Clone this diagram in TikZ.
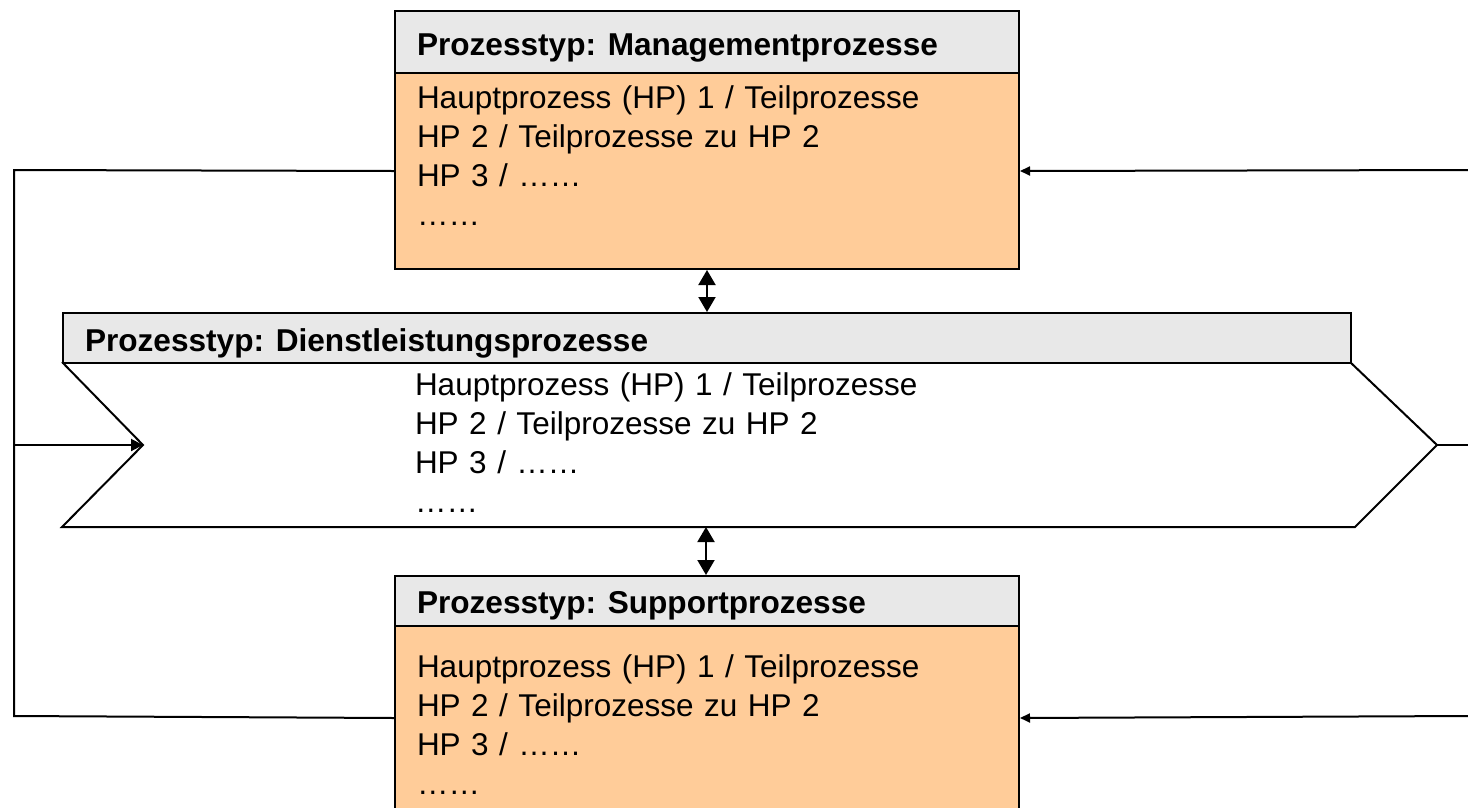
\documentclass[tikz,border=0pt]{standalone}
\usepackage{fontspec}
\setmainfont{Liberation Sans}
\usetikzlibrary{arrows.meta}
\definecolor{headgrey}{HTML}{E8E8E8}
\definecolor{bodyorange}{HTML}{FFCC99}
\tikzset{
  box/.style={draw=black, line width=2pt, inner sep=0pt, anchor=north west, minimum width=624pt},
  headtxt/.style={inner sep=0pt, anchor=base west, font=\fontsize{31.6}{39}\selectfont\bfseries},
  bodytxt/.style={inner sep=0pt, anchor=base west, align=left, text width=560pt, font=\fontsize{31.5}{39}\selectfont},
  bigtip/.style={{Triangle[length=15pt,width=17pt]}-{Triangle[length=15pt,width=17pt]}, line width=2pt},
  smalltip/.style={-{Triangle[length=10pt,width=9pt]}}
}
\begin{document}
\begin{tikzpicture}[x=1pt, y=-1pt, line width=2pt]
\useasboundingbox (0,0) rectangle (1468,807);
% boxes
\begin{scope}
\node[box, fill=bodyorange, minimum height=196pt] (mbody) at (394,72) {};
\node[box, fill=headgrey, minimum height=62pt] (mhead) at (394,10) {};
\node[box, fill=bodyorange, minimum height=184pt] (bbody) at (394,625) {};
\node[box, fill=headgrey, minimum height=50pt] (bhead) at (394,575) {};
\end{scope}
% chevron
\coordinate (cnotch) at (143,445);
\coordinate (ctip) at (1437,445);
\coordinate (cbot) at (706,527);
\draw[fill=white, line join=miter] (62,362) -- (cnotch) -- (62,527) -- (1355,527) -- (ctip) -- (1350,362);
\node[box, fill=headgrey, minimum width=1288pt, minimum height=50pt] (dhead) at (62,312) {};
% texts
\node[headtxt] (mtitle) at (416,55) {Prozesstyp: Managementprozesse};
\node[headtxt] (dtitle) at (84,351) {Prozesstyp: Dienstleistungsprozesse};
\node[headtxt] (btitle) at (416,613) {Prozesstyp: Supportprozesse};
\node[bodytxt] (mtxt) at (416,108) {Hauptprozess (HP) 1 / Teilprozesse\\HP 2 / Teilprozesse zu HP 2\\HP 3 / ……\\……};
\node[bodytxt] (dtxt) at (414,395) {Hauptprozess (HP) 1 / Teilprozesse\\HP 2 / Teilprozesse zu HP 2\\HP 3 / ……\\……};
\node[bodytxt] (btxt) at (416,677) {Hauptprozess (HP) 1 / Teilprozesse\\HP 2 / Teilprozesse zu HP 2\\HP 3 / ……\\……};
% connectors
\coordinate (lt) at (14,170);
\coordinate (lb) at (14,716);
\coordinate (lm) at (14,445);
\coordinate (rt) at (1468,170);
\coordinate (rm) at (1468,445);
\coordinate (rb) at (1468,716);
\draw (mbody.west) -- (lt) -- (lb) -- (bbody.west);
\draw[-{Triangle[length=12pt,width=12pt]}] (lm) -- (cnotch);
\draw[smalltip] (rt) -- (mbody.east);
\draw (ctip) -- (rm);
\draw[smalltip] (rb) -- (bbody.east);
\draw[bigtip] (mbody.south) -- (dhead.north);
\draw[bigtip] (cbot) -- (cbot |- bhead.north);
\end{tikzpicture}
\end{document}
